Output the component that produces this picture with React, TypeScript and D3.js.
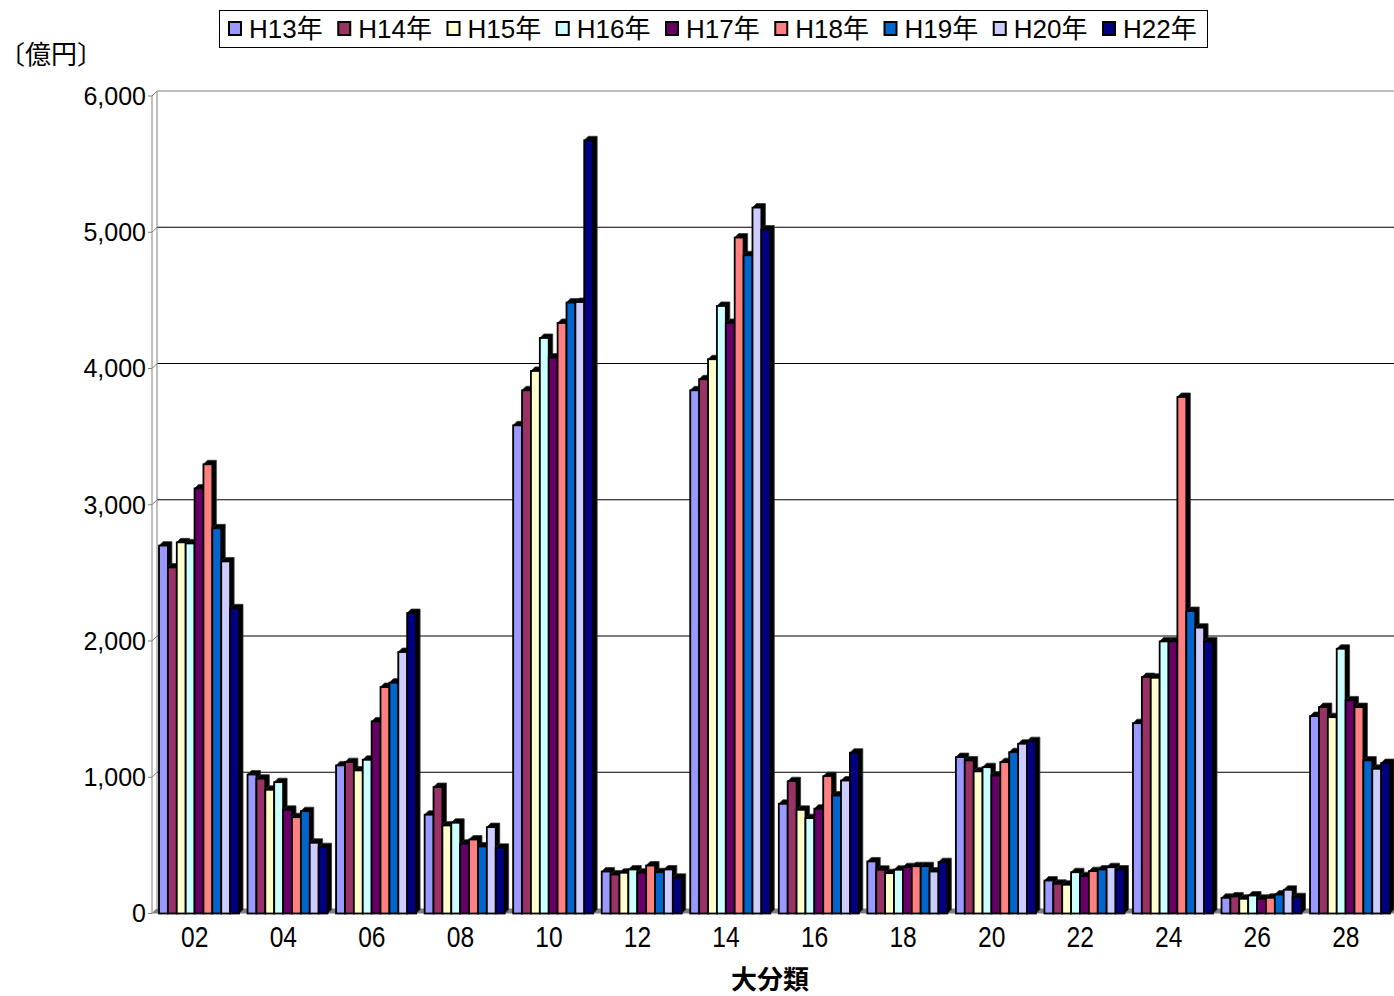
import React, { useEffect, useRef } from "react";
import * as d3 from "d3";

// 大分類コード
const categories = ["02", "04", "06", "08", "10", "12", "14", "16", "18", "20", "22", "24", "26", "28"];
const seriesNames = ["H13年", "H14年", "H15年", "H16年", "H17年", "H18年", "H19年", "H20年", "H22年"];
const seriesColors = ["#9999FF", "#993366", "#FFFFCC", "#CCFFFF", "#660066", "#FF8080", "#0066CC", "#CCCCFF", "#000080"];

// 億円
const h13 = [2700, 1020, 1087, 725, 3583, 308, 3840, 805, 382, 1148, 242, 1397, 115, 1449];
const h14 = [2540, 989, 1111, 928, 3840, 286, 3921, 971, 321, 1123, 218, 1735, 125, 1515];
const h15 = [2724, 908, 1050, 646, 3982, 299, 4068, 761, 296, 1043, 211, 1730, 108, 1441];
const h16 = [2716, 964, 1128, 666, 4224, 323, 4459, 700, 321, 1074, 303, 1997, 132, 1943];
const h17 = [3120, 761, 1410, 512, 4080, 299, 4334, 769, 340, 1013, 274, 1997, 108, 1564];
const h18 = [3297, 707, 1662, 543, 4334, 352, 4961, 1008, 347, 1111, 311, 3791, 115, 1515];
const h19 = [2827, 751, 1694, 492, 4484, 303, 4831, 866, 347, 1184, 323, 2220, 139, 1123];
const h20 = [2584, 519, 1919, 634, 4488, 323, 5181, 976, 308, 1246, 340, 2098, 174, 1062];
const h22 = [2240, 487, 2205, 482, 5675, 262, 5020, 1180, 377, 1265, 323, 1997, 120, 1104];
const seriesValues = [h13, h14, h15, h16, h17, h18, h19, h20, h22];

const yTicks = [0, 1000, 2000, 3000, 4000, 5000, 6000];

const App = () => {
  const ref = useRef<SVGSVGElement>(null);

  useEffect(() => {
    draw();
  }, []);

  const draw = () => {
    const svg = d3.select(ref.current);
    svg.selectAll("*").remove();

    const width = 1394;
    const depth = 5; // 奥行き(軸)
    const barDepth = 4; // 奥行き(棒)
    const axisX = 152;
    const latin = "'Liberation Sans', 'Noto Sans CJK JP', sans-serif";
    const cjk = "'Noto Sans CJK JP', sans-serif";

    const x = d3.scaleBand().domain(categories).range([154.5, 1394.1]);
    const xs = d3.scaleBand().domain(seriesNames).range([4.5, 84.5]);
    const y = d3.scaleLinear().domain([0, 6000]).range([913.5, 96]);

    // 床
    svg
      .append("polygon")
      .attr(
        "points",
        [
          [axisX, y(0)],
          [axisX + depth, y(0) - depth],
          [width, y(0) - depth],
          [width, y(0)],
        ]
          .map((p) => p.join(","))
          .join(" ")
      )
      .attr("fill", "#808080");

    // 目盛線
    svg
      .append("g")
      .selectAll("line")
      .data(yTicks.filter((t) => t > 0))
      .enter()
      .append("line")
      .attr("x1", axisX + depth)
      .attr("x2", width)
      .attr("y1", (d) => y(d) - depth)
      .attr("y2", (d) => y(d) - depth)
      .attr("stroke", (d) => (d === 6000 ? "#808080" : "#000"))
      .attr("stroke-width", 1);

    // 軸
    const axis = svg.append("g").attr("stroke", "#808080").attr("fill", "none");
    axis.append("line").attr("x1", axisX).attr("x2", axisX).attr("y1", y(6000)).attr("y2", y(0));
    axis
      .append("line")
      .attr("x1", axisX + depth)
      .attr("x2", axisX + depth)
      .attr("y1", y(6000) - depth)
      .attr("y2", y(0) - depth);
    axis
      .append("line")
      .attr("x1", axisX)
      .attr("x2", axisX + depth)
      .attr("y1", y(6000))
      .attr("y2", y(6000) - depth);
    axis
      .selectAll(".tick")
      .data(yTicks)
      .enter()
      .append("path")
      .attr("d", (d) => `M${axisX - 4},${y(d)}H${axisX}L${axisX + depth},${y(d) - depth}`);

    svg
      .append("g")
      .selectAll("text")
      .data(yTicks)
      .enter()
      .append("text")
      .text((d) => d3.format(",")(d))
      .attr("x", 146)
      .attr("y", (d) => y(d))
      .attr("dy", "0.35em")
      .attr("text-anchor", "end")
      .attr("font-family", latin)
      .attr("font-size", "25px")
      .attr("fill", "#000");

    // 棒
    const bw = xs.bandwidth();
    const base = y(0);
    categories.forEach((c, ci) => {
      const g = svg.append("g");
      seriesNames.forEach((s, si) => {
        const v = seriesValues[si][ci];
        // @ts-ignore
        const bx = x(c) + xs(s);
        const by = y(v);
        g.append("polygon")
          .attr(
            "points",
            [
              [bx, by],
              [bx + barDepth, by - barDepth],
              [bx + bw + barDepth, by - barDepth],
              [bx + bw + barDepth, base - barDepth],
              [bx + bw, base],
              [bx, base],
            ]
              .map((p) => p.join(","))
              .join(" ")
          )
          .attr("fill", "#000")
          .attr("stroke", "#333")
          .attr("stroke-width", 0.8);
        g.append("rect")
          .attr("x", bx)
          .attr("y", by)
          .attr("width", bw)
          .attr("height", base - by)
          .attr("fill", seriesColors[si])
          .attr("stroke", "#000")
          .attr("stroke-width", 1.8);
      });
    });

    // カテゴリ
    svg
      .append("g")
      .selectAll("text")
      .data(categories)
      .enter()
      .append("text")
      .text((d) => d)
      // @ts-ignore
      .attr("transform", (d) => `translate(${x(d) + x.bandwidth() / 2 - 4}, 936) scale(0.82, 1)`)
      .attr("dy", "0.35em")
      .attr("text-anchor", "middle")
      .attr("font-family", latin)
      .attr("font-size", "30px")
      .attr("fill", "#000");

    svg
      .append("text")
      .text("大分類")
      .attr("x", 770)
      .attr("y", 980)
      .attr("dy", "0.35em")
      .attr("text-anchor", "middle")
      .attr("font-family", cjk)
      .attr("font-weight", "bold")
      .attr("font-size", "26px");

    svg
      .append("text")
      .text("〔億円〕")
      .attr("x", -1)
      .attr("y", 55)
      .attr("dy", "0.35em")
      .attr("font-family", cjk)
      .attr("font-size", "26px");

    // 凡例
    const legend = svg.append("g");
    legend
      .append("rect")
      .attr("x", 219.5)
      .attr("y", 10.5)
      .attr("width", 988)
      .attr("height", 37)
      .attr("fill", "#fff")
      .attr("stroke", "#000");
    const item = legend
      .selectAll(".item")
      .data(seriesNames)
      .enter()
      .append("g")
      .attr("transform", (d, i) => `translate(${228 + i * 109.25}, 0)`);
    item
      .append("rect")
      .attr("x", 1)
      .attr("y", 22)
      .attr("width", 12)
      .attr("height", 13)
      .attr("fill", (d, i) => seriesColors[i])
      .attr("stroke", "#000")
      .attr("stroke-width", 2);
    item
      .append("text")
      .text((d) => d)
      .attr("x", 21)
      .attr("y", 29)
      .attr("dy", "0.35em")
      .attr("font-family", latin)
      .attr("font-size", "26px")
      .attr("fill", "#000");
  };

  return (
    <svg
      ref={ref}
      width={1394}
      height={996}
      style={{ position: "fixed", left: 0, top: 0, background: "#fff" }}
    />
  );
};
export default App;
